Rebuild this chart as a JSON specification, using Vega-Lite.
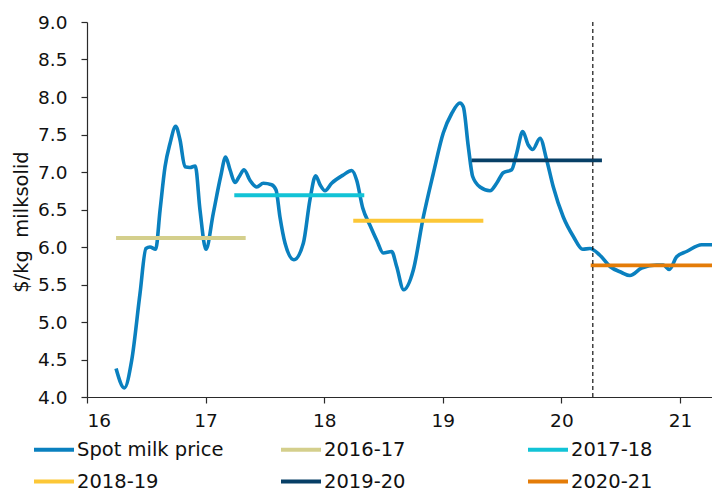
{
  "$schema": "https://vega.github.io/schema/vega-lite/v6.json",
  "autosize": "none",
  "width": 625,
  "height": 375,
  "padding": {"left": 87, "top": 22, "right": 0, "bottom": 92},
  "background": "white",
  "config": {
    "view": {"stroke": null},
    "font": "DejaVu Sans",
    "axis": {"grid": false, "domainColor": "#2a2a2a", "tickColor": "#2a2a2a", "labelColor": "#111", "titleColor": "#111", "labelFont": "DejaVu Sans", "titleFont": "DejaVu Sans", "labelFontSize": 18.5, "labelOverlap": false, "tickSize": 6, "domainWidth": 1.2, "tickWidth": 1.2}
  },
  "datasets": {
    "spot": [
      {"series": "Spot milk price", "x": 16.245, "y": 4.38},
      {"series": "Spot milk price", "x": 16.315, "y": 4.12},
      {"series": "Spot milk price", "x": 16.377, "y": 4.49},
      {"series": "Spot milk price", "x": 16.447, "y": 5.38},
      {"series": "Spot milk price", "x": 16.497, "y": 5.98},
      {"series": "Spot milk price", "x": 16.531, "y": 6.0},
      {"series": "Spot milk price", "x": 16.579, "y": 5.97},
      {"series": "Spot milk price", "x": 16.616, "y": 6.49},
      {"series": "Spot milk price", "x": 16.658, "y": 7.07},
      {"series": "Spot milk price", "x": 16.7, "y": 7.38},
      {"series": "Spot milk price", "x": 16.748, "y": 7.61},
      {"series": "Spot milk price", "x": 16.784, "y": 7.43},
      {"series": "Spot milk price", "x": 16.826, "y": 7.07},
      {"series": "Spot milk price", "x": 16.868, "y": 7.06},
      {"series": "Spot milk price", "x": 16.913, "y": 7.08},
      {"series": "Spot milk price", "x": 16.953, "y": 6.49},
      {"series": "Spot milk price", "x": 17.003, "y": 5.97},
      {"series": "Spot milk price", "x": 17.065, "y": 6.45},
      {"series": "Spot milk price", "x": 17.127, "y": 6.94},
      {"series": "Spot milk price", "x": 17.169, "y": 7.2},
      {"series": "Spot milk price", "x": 17.206, "y": 7.03},
      {"series": "Spot milk price", "x": 17.248, "y": 6.86},
      {"series": "Spot milk price", "x": 17.284, "y": 6.94},
      {"series": "Spot milk price", "x": 17.324, "y": 7.03},
      {"series": "Spot milk price", "x": 17.374, "y": 6.89},
      {"series": "Spot milk price", "x": 17.431, "y": 6.8},
      {"series": "Spot milk price", "x": 17.487, "y": 6.85},
      {"series": "Spot milk price", "x": 17.557, "y": 6.83},
      {"series": "Spot milk price", "x": 17.594, "y": 6.76},
      {"series": "Spot milk price", "x": 17.627, "y": 6.4},
      {"series": "Spot milk price", "x": 17.67, "y": 6.05},
      {"series": "Spot milk price", "x": 17.745, "y": 5.83},
      {"series": "Spot milk price", "x": 17.824, "y": 6.05},
      {"series": "Spot milk price", "x": 17.88, "y": 6.63},
      {"series": "Spot milk price", "x": 17.928, "y": 6.95},
      {"series": "Spot milk price", "x": 17.965, "y": 6.83},
      {"series": "Spot milk price", "x": 18.007, "y": 6.75},
      {"series": "Spot milk price", "x": 18.063, "y": 6.85},
      {"series": "Spot milk price", "x": 18.161, "y": 6.96},
      {"series": "Spot milk price", "x": 18.232, "y": 7.02},
      {"series": "Spot milk price", "x": 18.274, "y": 6.89},
      {"series": "Spot milk price", "x": 18.325, "y": 6.52},
      {"series": "Spot milk price", "x": 18.386, "y": 6.29},
      {"series": "Spot milk price", "x": 18.443, "y": 6.09},
      {"series": "Spot milk price", "x": 18.498, "y": 5.92},
      {"series": "Spot milk price", "x": 18.569, "y": 5.94},
      {"series": "Spot milk price", "x": 18.611, "y": 5.74},
      {"series": "Spot milk price", "x": 18.67, "y": 5.43},
      {"series": "Spot milk price", "x": 18.751, "y": 5.69},
      {"series": "Spot milk price", "x": 18.836, "y": 6.4},
      {"series": "Spot milk price", "x": 18.92, "y": 6.98},
      {"series": "Spot milk price", "x": 19.004, "y": 7.52},
      {"series": "Spot milk price", "x": 19.075, "y": 7.78},
      {"series": "Spot milk price", "x": 19.145, "y": 7.92},
      {"series": "Spot milk price", "x": 19.173, "y": 7.87},
      {"series": "Spot milk price", "x": 19.215, "y": 7.34},
      {"series": "Spot milk price", "x": 19.252, "y": 6.94},
      {"series": "Spot milk price", "x": 19.314, "y": 6.8},
      {"series": "Spot milk price", "x": 19.398, "y": 6.75},
      {"series": "Spot milk price", "x": 19.454, "y": 6.85},
      {"series": "Spot milk price", "x": 19.51, "y": 6.99},
      {"series": "Spot milk price", "x": 19.581, "y": 7.03},
      {"series": "Spot milk price", "x": 19.623, "y": 7.25},
      {"series": "Spot milk price", "x": 19.674, "y": 7.54},
      {"series": "Spot milk price", "x": 19.721, "y": 7.36},
      {"series": "Spot milk price", "x": 19.758, "y": 7.3},
      {"series": "Spot milk price", "x": 19.82, "y": 7.45},
      {"series": "Spot milk price", "x": 19.876, "y": 7.16},
      {"series": "Spot milk price", "x": 19.932, "y": 6.8},
      {"series": "Spot milk price", "x": 20.016, "y": 6.4},
      {"series": "Spot milk price", "x": 20.101, "y": 6.14},
      {"series": "Spot milk price", "x": 20.18, "y": 5.97},
      {"series": "Spot milk price", "x": 20.241, "y": 5.98},
      {"series": "Spot milk price", "x": 20.325, "y": 5.89},
      {"series": "Spot milk price", "x": 20.41, "y": 5.74},
      {"series": "Spot milk price", "x": 20.508, "y": 5.66},
      {"series": "Spot milk price", "x": 20.578, "y": 5.62},
      {"series": "Spot milk price", "x": 20.677, "y": 5.72},
      {"series": "Spot milk price", "x": 20.803, "y": 5.76},
      {"series": "Spot milk price", "x": 20.86, "y": 5.76},
      {"series": "Spot milk price", "x": 20.91, "y": 5.7},
      {"series": "Spot milk price", "x": 20.972, "y": 5.87},
      {"series": "Spot milk price", "x": 21.056, "y": 5.94},
      {"series": "Spot milk price", "x": 21.183, "y": 6.03},
      {"series": "Spot milk price", "x": 21.27, "y": 6.03}
    ],
    "seasons": [
      {"series": "2016-17", "x": 16.245, "y": 6.12},
      {"series": "2016-17", "x": 17.338, "y": 6.12},
      {"series": "2017-18", "x": 17.242, "y": 6.69},
      {"series": "2017-18", "x": 18.338, "y": 6.69},
      {"series": "2018-19", "x": 18.245, "y": 6.35},
      {"series": "2018-19", "x": 19.342, "y": 6.35},
      {"series": "2019-20", "x": 19.243, "y": 7.155},
      {"series": "2019-20", "x": 20.342, "y": 7.155},
      {"series": "2020-21", "x": 20.247, "y": 5.755},
      {"series": "2020-21", "x": 21.27, "y": 5.755}
    ],
    "marker": [{"x": 20.265}]
  },
  "encoding": {
    "x": {"field": "x", "type": "quantitative", "scale": {"domain": [16, 21.27], "nice": false, "zero": false},
          "axis": {"values": [16, 17, 18, 19, 20, 21], "tickCount": 20, "format": "d", "title": null, "labelPadding": 8, "labelOverlap": false}},
    "y": {"field": "y", "type": "quantitative", "scale": {"domain": [4, 9], "nice": false, "zero": false},
          "axis": {"values": [4, 4.5, 5, 5.5, 6, 6.5, 7, 7.5, 8, 8.5, 9], "tickCount": 20, "format": ".1f", "labelOverlap": false, "title": "$/kg\u00a0 milksolid", "titleFontSize": 19.5, "titleFontWeight": "normal", "labelPadding": 14, "titlePadding": 6, "titleY": 199.5}}
  },
  "layer": [
    {
      "data": {"name": "spot"},
      "mark": {"type": "line", "interpolate": "monotone", "strokeWidth": 3.6, "clip": true},
      "encoding": {
        "color": {"field": "series", "type": "nominal",
          "scale": {"domain": ["Spot milk price", "2016-17", "2017-18", "2018-19", "2019-20", "2020-21"],
                    "range": ["#0a80bf", "#d4cf8c", "#12c3d6", "#fcc737", "#073f66", "#e47c08"]},
          "legend": {"title": null, "orient": "none", "legendX": -55, "legendY": 405.5, "direction": "horizontal", "columns": 3, "gridAlign": "all",
                     "symbolType": "stroke", "symbolSize": 1600, "symbolStrokeWidth": 4, "labelFontSize": 19.5, "labelFont": "DejaVu Sans", "labelColor": "#111",
                     "labelOffset": 1, "columnPadding": 49, "rowPadding": -9, "labelLimit": 300}}
      }
    },
    {
      "data": {"name": "seasons"},
      "mark": {"type": "line", "strokeWidth": 3.8, "clip": true},
      "encoding": {
        "color": {"field": "series", "type": "nominal"}
      }
    },
    {
      "data": {"name": "marker"},
      "mark": {"type": "rule", "color": "#111", "strokeWidth": 1.2, "strokeDash": [4, 3]},
      "encoding": {"y": null}
    }
  ]
}
